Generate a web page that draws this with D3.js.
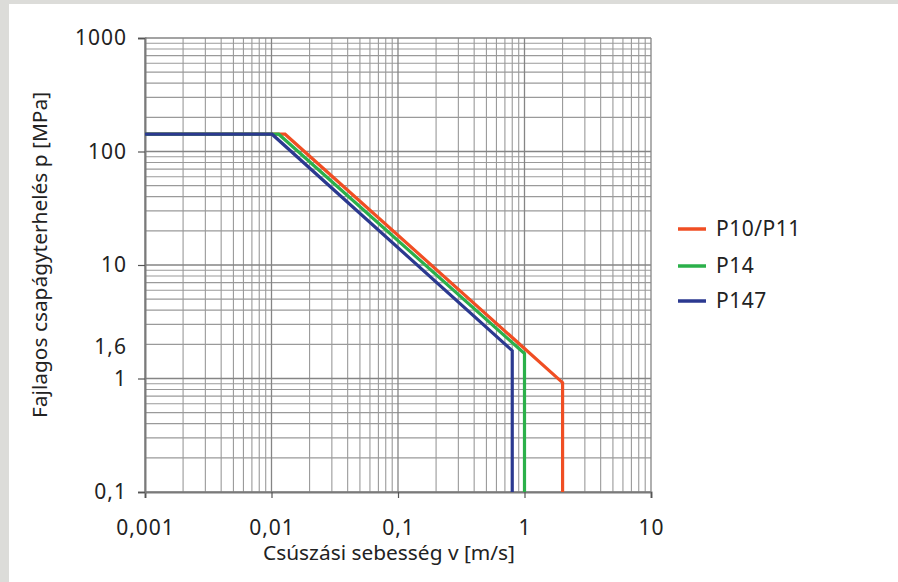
<!DOCTYPE html>
<html><head><meta charset="utf-8">
<script src="https://cdn.jsdelivr.net/npm/d3@7"></script>
<style>
html,body{margin:0;padding:0;background:#fff;}
svg{display:block;}
text{font-family:"Noto Sans",sans-serif;fill:#222;}
</style></head>
<body>
<svg id="chart" width="898" height="582"></svg>
<script>
// ---- data ----
const seriesNames = ["P10/P11", "P14", "P147"];
const seriesColors = ["#f04e23", "#2bb04a", "#2b3990"];
const vP1011 = [0.001, 0.0128, 2, 2];
const pP1011 = [142, 142, 0.92, 0.1];
const vP14 = [0.001, 0.0114, 1, 1];
const pP14 = [142, 142, 1.66, 0.1];
const vP147 = [0.001, 0.0101, 0.8, 0.8];
const pP147 = [142, 142, 1.76, 0.1];
const xTickValues = [0.001, 0.01, 0.1, 1, 10];
const xTickLabels = ["0,001", "0,01", "0,1", "1", "10"];
const yTickValues = [0.1, 1, 1.6, 10, 100, 1000];
const yTickLabels = ["0,1", "1", "1,6", "10", "100", "1000"];
const xTitle = "Csúszási sebesség v [m/s]";
const yTitle = "Fajlagos csapágyterhelés p [MPa]";

const seriesV = [vP1011, vP14, vP147];
const seriesP = [pP1011, pP14, pP147];

// ---- layout ----
const svg = d3.select("#chart");
const pL = 145, pR = 651, pT = 38, pB = 492;
const x = d3.scaleLog().domain([0.001, 10]).range([pL, pR]);
const y = d3.scaleLog().domain([0.1, 1000]).range([pB, pT]);

// frame background
svg.append("rect").attr("x", 0).attr("y", 0).attr("width", 898).attr("height", 4).attr("fill", "#dcdcd9");
svg.append("rect").attr("x", 0).attr("y", 0).attr("width", 9).attr("height", 582).attr("fill", "#dcdcd9");

// grid
const g = svg.append("g");
const xMinor = [], yMinor = [];
for (let e = -3; e < 1; e++) for (let k = 2; k <= 9; k++) xMinor.push(k * Math.pow(10, e));
for (let e = -1; e < 3; e++) for (let k = 2; k <= 9; k++) yMinor.push(k * Math.pow(10, e));
g.selectAll(".vx").data(xMinor).enter().append("line")
  .attr("x1", d => x(d)).attr("x2", d => x(d)).attr("y1", pT).attr("y2", pB)
  .attr("stroke", "#9a9a9a").attr("stroke-width", 1.1);
g.selectAll(".hy").data(yMinor).enter().append("line")
  .attr("y1", d => y(d)).attr("y2", d => y(d)).attr("x1", pL).attr("x2", pR)
  .attr("stroke", "#9a9a9a").attr("stroke-width", 1.1);
g.selectAll(".vmaj").data(xTickValues).enter().append("line")
  .attr("x1", d => x(d)).attr("x2", d => x(d)).attr("y1", pT).attr("y2", pB)
  .attr("stroke", "#858585").attr("stroke-width", 1.3);
g.selectAll(".hmaj").data(yTickValues.filter(v => v !== 1.6)).enter().append("line")
  .attr("y1", d => y(d)).attr("y2", d => y(d)).attr("x1", pL).attr("x2", pR)
  .attr("stroke", "#858585").attr("stroke-width", 1.3);

// axes
const xAxis = d3.axisBottom(x).tickValues(xTickValues)
  .tickFormat((d, i) => xTickLabels[i]).tickSize(6).tickPadding(22);
const gx = svg.append("g").attr("transform", `translate(0,${pB})`).call(xAxis);
gx.select(".domain").attr("stroke", "#7a7a7a").attr("stroke-width", 2);
gx.selectAll(".tick line").attr("stroke", "#555").attr("stroke-width", 1.2);
gx.selectAll(".tick text").attr("font-size", 21).attr("letter-spacing", "1px")
  .attr("font-family", "Noto Sans").attr("fill", "#222");

const yAxis = d3.axisLeft(y).tickValues(yTickValues)
  .tickFormat((d, i) => yTickLabels[i]).tickSize(7).tickPadding(11);
const gy = svg.append("g").attr("transform", `translate(${pL},0)`).call(yAxis);
gy.select(".domain").attr("stroke", "#7a7a7a").attr("stroke-width", 2);
gy.selectAll(".tick line").attr("stroke", "#555").attr("stroke-width", 1.2)
  .attr("display", d => d === 1.6 ? "none" : null);
gy.selectAll(".tick text").attr("font-size", 21).attr("letter-spacing", "1px")
  .attr("font-family", "Noto Sans").attr("fill", "#222").attr("dy", "0.32em");
gy.selectAll(".tick").filter(d => d === 1.6).select("text").attr("y", -9);

// series lines
const line = d3.line().x(d => x(d[0])).y(d => y(d[1]));
seriesV.forEach((vs, i) => {
  const pts = vs.map((v, j) => [v, seriesP[i][j]]);
  svg.append("path").datum(pts).attr("d", line)
    .attr("fill", "none").attr("stroke", seriesColors[i])
    .attr("stroke-width", 3.2).attr("stroke-linejoin", "miter");
});

// legend
const legendY = [229, 266, 301];
const lg = svg.append("g");
seriesNames.forEach((n, i) => {
  lg.append("line").attr("x1", 678).attr("x2", 706).attr("y1", legendY[i]).attr("y2", legendY[i])
    .attr("stroke", seriesColors[i]).attr("stroke-width", 3.5);
  lg.append("text").attr("x", 716).attr("y", legendY[i]).attr("dy", "0.35em")
    .attr("font-size", 21).attr("letter-spacing", "0.5px").text(n);
});

// axis titles
svg.append("text").attr("x", 389).attr("y", 560).attr("text-anchor", "middle")
  .attr("font-size", 19).attr("textLength", 252).attr("lengthAdjust", "spacingAndGlyphs").text(xTitle);
svg.append("text").attr("transform", "translate(47,255) rotate(-90)").attr("text-anchor", "middle")
  .attr("font-size", 19).attr("textLength", 326).attr("lengthAdjust", "spacingAndGlyphs").text(yTitle);
</script>
</body></html>
